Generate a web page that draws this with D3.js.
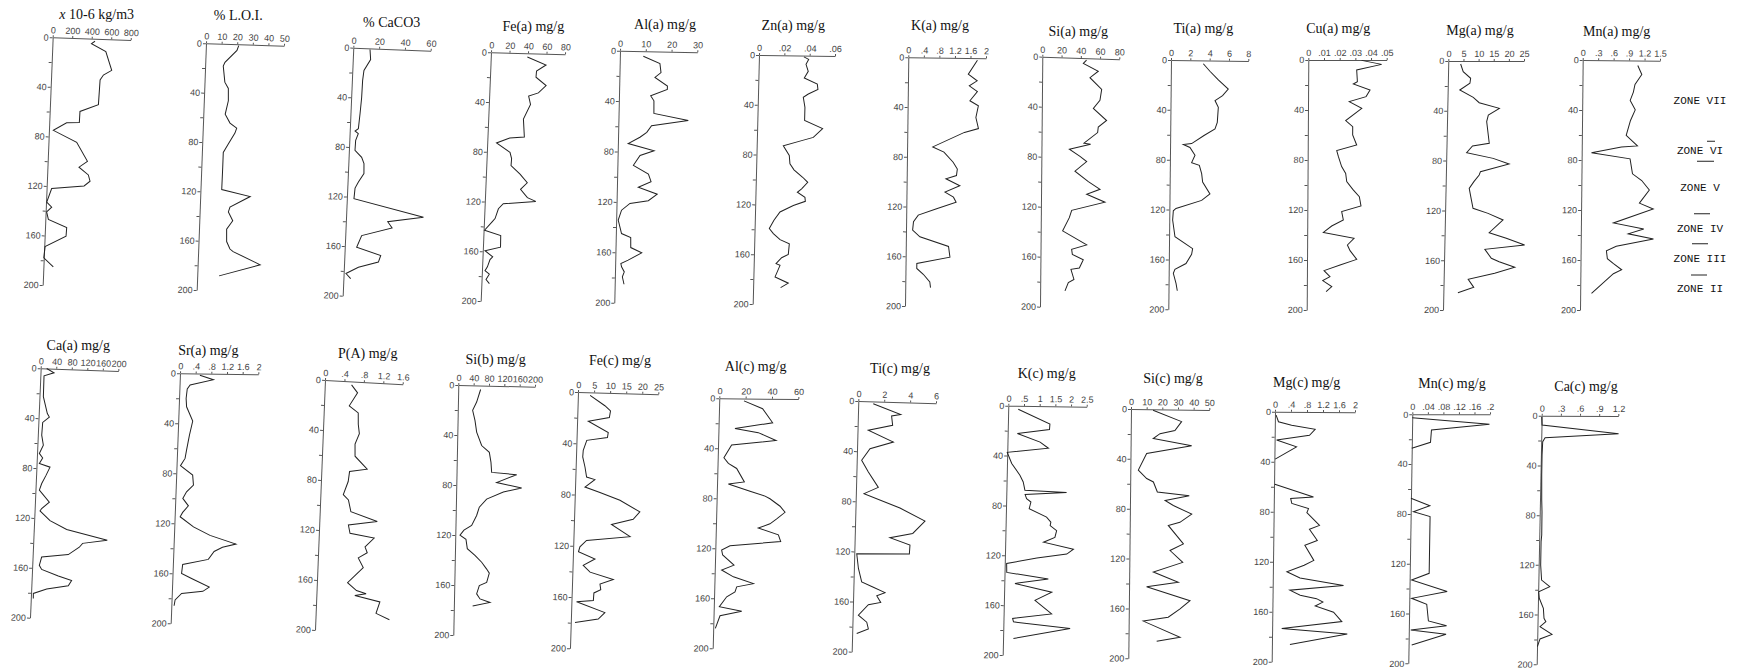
<!DOCTYPE html>
<html>
<head>
<meta charset="utf-8">
<title>Core profiles</title>
<script src="https://d3js.org/d3.v7.min.js"></script>
<style>
  body { margin: 0; background: #fff; }
  .axis text { font-family: "Liberation Sans", Arial, sans-serif; font-size: 9px; fill: #444; }
  .axis .domain, .axis line { stroke: #555; }
  .title { font-family: "Liberation Serif", "Times New Roman", serif; font-size: 14px; fill: #111; }
  .zone { font-family: "Liberation Mono", "Courier New", monospace; font-size: 11px; fill: #111; }
  .profile { fill: none; stroke: #222; stroke-width: 1; }
  .zonebar { stroke: #222; stroke-width: 1; }
</style>
</head>
<body>
<script>
// each profile is a list of [depth, value]
var magSus = [[2,435],[4,400],[10,550],[25,618],[29,535],[33,503],[53,496],[59,310],[68,308],[68.5,178],[75,45],[84,289],[99,407],[104,323],[110,422],[115,442],[119,383],[122,52],[133,7],[137,60],[141,10],[147,31],[153,222],[160,219],[169,8],[178,0],[185,101]];
var loi = [[1,21],[5,20],[15,12.6],[18,11.6],[31,13],[36,15.4],[46,15.7],[57,14],[64,17.3],[68,21.7],[72,20.7],[81,16.7],[88,13.7],[100,13.7],[118,13.6],[123,32],[132,19.3],[136,18.4],[143,21.4],[150,17.7],[160,18],[166,20.3],[168,22.4],[178,40],[188,14]];
var caco3 = [[1,13],[9,13.8],[18,9],[26,8.3],[40,8.1],[53,7.4],[65,6.6],[67,4.1],[69,6.7],[74.5,4.9],[82.5,4.7],[88,10.1],[93,12.1],[101,12.4],[108,8.4],[113,6],[121.5,5.5],[134.4,59.9],[139,32.4],[144,36],[151,12.7],[160.5,9.2],[166.4,28.1],[171.8,26.5],[176.6,11.2],[182,1.8],[186,5.6]];
var feA = [[3,39.5],[9,60],[14,50],[19,49.7],[25.5,61],[31.6,53],[34.3,42.6],[41,45],[53,38],[67.3,39.8],[68.5,24],[72.7,10],[80,25],[85,27],[90.6,26.7],[97.3,36.8],[104,45],[109.4,38],[116,45.8],[118.8,55],[121.4,20],[125.5,15],[133.5,11.8],[136,9],[143,1],[147,18.7],[156.3,19],[159.5,2.4],[164.3,11],[166.5,8.2],[172.4,5.7],[175.6,3.3],[178.3,8.1],[182.6,4.8],[185.8,8.6]];
var alA = [[4,9.1],[9.5,15.6],[16.7,16.1],[20.6,13.8],[27.2,18.7],[29.9,18.7],[35.2,12.3],[39.2,13.6],[49.2,13.7],[54.2,27.1],[59,12.9],[64.3,11.1],[68.3,8.5],[73.5,4],[78.8,14.1],[82.8,8.7],[90.7,6.2],[97.4,12.1],[103.4,13.2],[108,8.3],[113.2,15.7],[118.5,12.3],[121,5.2],[126.5,2],[134.4,0.8],[145,2.2],[148,5.8],[156,5.9],[160,10.2],[166,5],[168.8,2.2],[171.4,2.5],[175.4,3.6],[179.4,2.9],[185.2,3.6]];
var znA = [[1,.0355],[3,.0393],[7,.0373],[12.6,.0392],[18,.0362],[22.8,.0466],[27,.0472],[30.8,.0397],[33.5,.0358],[41.5,.0373],[52,.0373],[58.4,.0517],[65.6,.0445],[68.3,.0354],[72.6,.021],[80.3,.0259],[87,.0266],[91.8,.0299],[97.7,.0369],[101.7,.041],[107,.0363],[109.8,.033],[113.8,.0391],[117,.0395],[120.5,.0301],[125.8,.0197],[132.5,.0151],[139.2,.0116],[143.2,.0149],[148,.0203],[151.3,.0277],[159.8,.0271],[162.5,.0219],[167.3,.0176],[168.7,.0208],[178,.0171],[182.9,.0277],[186.6,.0217]];
var kA = [[1.6,1.78],[12.9,1.55],[18.2,1.78],[22.3,1.58],[26.8,1.79],[34.3,1.6],[38.3,1.82],[47.7,1.76],[56.6,1.83],[59.8,1.47],[71.8,.66],[75.9,.95],[83.9,1.19],[89.3,1.3],[94.6,1.28],[97.3,1.01],[102.7,1.37],[108,.99],[112,1.21],[116,1.28],[121.4,.78],[126.8,.31],[132.2,.19],[138.9,.17],[144.2,.36],[151.7,1.1],[160.3,1.14],[165.7,.29],[169.7,.29],[174.3,.46],[180.4,.63],[185,.65]];
var siA = [[1.6,46],[4.3,42.7],[10.1,58.3],[15.5,49.7],[24.5,62],[33.3,60.3],[40,53.5],[49.3,67.4],[54.7,58.8],[59.2,58.2],[68,44.1],[68.8,51],[73.3,29],[78.7,40.1],[82.7,47.1],[90.7,35],[98.7,49],[104.5,61.2],[108.8,47.4],[114.7,66.5],[122.1,32],[128,29.6],[138.7,22.8],[149.3,47.9],[153.3,32.3],[157.3,33.1],[161.3,44.5],[168,40.5],[169.3,31.8],[177.3,35],[180,29.2],[186.7,25.8]];
var tiA = [[2.7,3.35],[8.6,4.04],[15.5,4.92],[22.7,5.96],[28.1,5.38],[32.1,4.6],[37.4,4.95],[49.5,4.86],[54.8,4.63],[60.2,3.5],[66.8,2.23],[67.6,1.37],[70,2.06],[76.2,2.59],[82.1,2.25],[84.2,3.05],[90.9,3.3],[97.6,3.41],[107,4.18],[112.3,3.33],[119,.68],[120.9,.41],[128.3,.35],[141.7,.61],[151.1,2.45],[155.6,2.35],[163.1,1.78],[167.9,.64],[171.1,.48],[179.1,.77],[185,.91]];
var cuA = [[0.3,.034],[3.5,.0468],[8,.0309],[17.3,.0314],[19.2,.0288],[24,.0395],[29.3,.037],[33.3,.0263],[38.7,.0343],[48.5,.0241],[53.3,.0286],[60,.0286],[68,.0312],[72.5,.0185],[77.3,.0196],[85.3,.0217],[90.7,.0243],[97.3,.025],[103.5,.0289],[109.3,.0331],[116.8,.0342],[121.3,.0219],[128,.023],[132.8,.0156],[137.9,.0103],[142.7,.0299],[148,.0257],[152.5,.0274],[159.5,.0317],[164,.0211],[168.5,.0109],[173.3,.0147],[176.5,.0101],[181.3,.0159],[185.3,.0123]];
var mgA = [[2.4,4.1],[8.6,5],[13.9,7.5],[17.9,7.3],[23.3,4],[29.2,8.5],[33.5,10.5],[38,17.2],[43.4,13.6],[48.7,13.1],[66.1,14.1],[68.3,8.6],[73.6,6.7],[78.2,15.5],[82.7,20.8],[88.9,11.4],[91.6,11],[96.9,9.3],[102.3,7.8],[111.6,8.6],[118.3,9.2],[122.4,14.2],[127.7,19.2],[137.9,14.7],[142.4,20.4],[147.8,26.5],[151.3,13.4],[158.5,15.6],[161.2,18.2],[165.7,23.4],[170.5,16.8],[175.4,8.1],[181.8,10],[186.1,4.8]];
var mnA = [[4,1.07],[11.2,1.15],[19.2,1.02],[25.3,.99],[32,.93],[39.5,1.03],[48,.94],[60,.86],[68.3,1.08],[69.3,.77],[74.1,.19],[78.7,.94],[90.7,.99],[96,1.17],[103.5,1.32],[114.1,1.13],[118.7,1.4],[130.1,.63],[134.7,1.22],[138.7,.92],[142.7,1.41],[148.8,.69],[152.5,.5],[158.7,.52],[162.7,.64],[167.5,.8],[170.7,.64],[186.7,.22]];
var caA = [[0,15.5],[3.2,34.8],[5.9,9.4],[22.7,10],[36.1,22.1],[38.8,27.6],[43.3,11.1],[53.5,10],[61.5,15.3],[68.2,5.9],[71.7,15],[76.2,7],[78.9,34.9],[85.6,25.5],[92.2,15.3],[97.6,10],[107,37],[112.3,18],[114.2,14],[121.7,40.8],[128.3,84.6],[135.8,190.3],[139,127.2],[142.2,119.1],[148.4,91.6],[151.1,23.3],[157.8,18.2],[161,24.7],[165.8,68.2],[169,103],[173.3,95],[176.5,39.7],[180.5,5.9],[184.5,6.4]];
var srA = [[1.3,.51],[4.8,.86],[9.3,.27],[12.5,.2],[20,.18],[26.7,.2],[38.1,.37],[49.3,.3],[61.3,.24],[68,.21],[73.9,.1],[81.3,.42],[89.3,.45],[94.7,.28],[100,.19],[105.9,.34],[111.2,.2],[114.7,.14],[122.7,.49],[129.3,.92],[136,1.59],[138.7,1.25],[142.1,1.04],[148.5,.9],[152.8,.25],[160,.23],[164,.49],[170.7,.95],[174.1,.79],[176,.25],[181.3,.09],[185.9,.07]];
var pA = [[2.7,.55],[8.8,.68],[19.5,.52],[24.8,.71],[33.9,.72],[41.3,.75],[49.9,.67],[59.5,.68],[69.3,.94],[72,.58],[80,.56],[90.7,.47],[94.7,.58],[104,.64],[110.7,1.19],[114.7,.6],[121.3,.64],[124,1.14],[131.5,.96],[136,1.01],[140.5,.83],[148,.94],[160.8,.63],[166.7,.82],[168.8,1.02],[170.7,.79],[174.7,1.31],[184,1.24],[188.5,1.52]];
var siB = [[3.2,58.4],[13.3,48.7],[20,38.7],[28,45.3],[37.3,50.3],[48,64],[53.3,84.4],[61.3,89.2],[69.3,91.5],[70.7,156.8],[77.3,105],[81.3,170.5],[84.8,123],[90.7,79.8],[97.3,61.1],[104,54.6],[112,42.1],[116,22.3],[120,12.2],[123.2,28],[130.7,32],[136,52.3],[141.3,70.1],[146.7,83.5],[149.9,90.6],[157.3,84.2],[160,65.2],[166.7,58.7],[170.7,67.7],[173.3,93.9],[176.5,48.9]];
var feC = [[2.3,3.8],[10.1,8.5],[14,10.3],[19.2,10],[22.6,3.5],[30.9,9.8],[34.9,9.6],[37.5,3.2],[45.3,2.2],[50.5,2.1],[58.3,2.9],[66.1,3.5],[67.9,6.1],[73.9,3.1],[77.8,7.8],[83.5,14.1],[92.1,20.4],[98,18.4],[102.5,11.7],[111.6,17.6],[115.5,4.1],[120.7,2.1],[124.6,1.7],[129.8,6.9],[135,3.3],[140.2,5.5],[145.4,12.8],[149.3,8.7],[153.7,9],[156.3,6.9],[162.3,6.8],[163.6,1.6],[171.4,10.5],[176.6,8.5],[179.7,1.3]];
var alC = [[1.9,18.8],[8,33.1],[19.2,41],[24,12.5],[27.2,30.3],[33.3,43.9],[37.3,10.3],[47.5,4.7],[52,8.2],[56,14.6],[66.7,20.7],[68.5,8.6],[74.1,25.2],[77.9,36.7],[80,40.5],[85.9,48.3],[90.7,52.2],[96,46],[100,41],[103.5,32.2],[108.8,47.6],[114.1,49.5],[117.9,11.1],[121.3,4.8],[125.3,5.7],[133.3,14.5],[137.3,5.2],[142.7,14.3],[148,29.6],[150.7,17],[154.7,15.8],[158.7,9.6],[166.7,4.2],[170.1,21.3],[173.9,4.9],[184,1.6]];
var tiC = [[1.9,1.16],[9.8,3.3],[11.2,2.6],[18.6,2.7],[23.1,.83],[31.9,2.79],[37.8,1],[47.1,.38],[56.4,.92],[68.4,1.72],[73.7,.63],[84.3,3.43],[94.1,5.39],[104.3,4.47],[108.2,2.72],[113.6,4.28],[120.7,4.25],[121.8,.19],[133.5,.35],[144.1,.63],[148.1,1.54],[152.1,2.45],[154.8,1.82],[160.1,2.14],[162.2,1.19],[170.7,.44],[176.1,1.1],[181.4,1.24],[185.4,.35]];
var kC = [[2.7,.32],[14.2,1.34],[18.7,1.33],[22.2,.31],[28.9,1.04],[33.7,1.31],[37.4,0],[46.3,.15],[55.6,.42],[61,.53],[67.6,.59],[69,1.92],[71.1,.6],[74.3,.65],[77,.79],[82.4,.74],[89,1.3],[93,1.44],[95.7,1.42],[99.7,1.63],[105.1,1.58],[109.1,1.22],[114.4,2.18],[118.4,1.97],[121.9,1.02],[126.5,.06],[133.7,.07],[138.5,1.4],[142.5,.34],[149.2,1.52],[155.9,.99],[166.6,1.53],[170.6,.29],[173.3,.32],[178.1,2.13],[186.6,.33]];
var siC = [[0.8,14.1],[9.6,32.4],[16.8,28.2],[19.5,18.7],[23.5,14.4],[28.9,39],[35.5,10.3],[48.9,5.1],[55.6,10.5],[58.3,14.8],[66.3,17.4],[69,37.8],[73,22.4],[77,27.7],[83.7,39.5],[90.4,32],[93,24.6],[107.7,34.4],[113.1,25.9],[122.5,34.1],[130.5,15.4],[138.5,31.4],[142.5,11.2],[153.2,39],[159.9,32.7],[166.6,25.2],[170,9.3],[182.6,32.9],[186.1,18]];
var mgC = [[2.7,.03],[8,.09],[10.7,.42],[13.9,1.01],[18.7,.87],[22.7,.05],[28,.55],[37.9,.02],[48,null],[58.1,.02],[68,.99],[69.3,.42],[73.3,.45],[77.3,.87],[80.5,.83],[90.7,1.15],[93.9,.9],[102.7,1.1],[106.7,.79],[118.7,1.02],[122.7,.78],[128,.35],[132.8,.68],[138.7,1.77],[142.7,.43],[146.7,.69],[149.3,1.1],[152,1.26],[155.2,1.07],[160,1.53],[167.5,1.74],[173.3,.24],[177.3,1.88],[186.1,.45]];
var mnC = [[2.7,0],[8,.199],[12.6,.05],[22.5,.048],[27.3,0],[45,null],[67.5,0],[73.4,.049],[78.2,.007],[82.2,.05],[127.7,.05],[133.1,.005],[142.4,.097],[147.8,.006],[152.6,.045],[166,.05],[169.8,.097],[173.2,.005],[176.7,.096],[185.3,.008]];
var caC = [[0.8,0],[7.5,.008],[14.2,1.21],[17.7,.06],[20.9,.024],[31.6,.018],[47.7,.019],[67.8,.027],[77.2,.035],[96,.038],[101.3,.03],[120.1,.031],[132.2,.05],[137.5,.18],[141.6,.008],[146.9,.02],[155,.087],[163,.1],[165.7,.13],[169.7,.04],[175.9,.23],[179.6,.044],[185.8,.005]];

var series = [magSus, loi, caco3, feA, alA, znA, kA, siA, tiA, cuA, mgA, mnA,
              caA, srA, pA, siB, feC, alC, tiC, kC, siC, mgC, mnC, caC];
var titles = ["10-6 kg/m3", "% L.O.I.", "% CaCO3", "Fe(a) mg/g", "Al(a) mg/g", "Zn(a) mg/g",
              "K(a) mg/g", "Si(a) mg/g", "Ti(a) mg/g", "Cu(a) mg/g", "Mg(a) mg/g", "Mn(a) mg/g",
              "Ca(a) mg/g", "Sr(a) mg/g", "P(A) mg/g", "Si(b) mg/g", "Fe(c) mg/g", "Al(c) mg/g",
              "Ti(c) mg/g", "K(c) mg/g", "Si(c) mg/g", "Mg(c) mg/g", "Mn(c) mg/g", "Ca(c) mg/g"];
var xMax  = [800, 50, 60, 80, 30, .06, 2, 80, 8, .05, 25, 1.5, 200, 2, 1.6, 200, 25, 60, 6, 2.5, 50, 2, .2, 1.2];
var xStep = [200, 10, 20, 20, 10, .02, .4, 20, 2, .01, 5, .3, 40, .4, .4, 40, 5, 20, 2, .5, 10, .4, .04, .3];
var depthTicks = d3.range(0, 201, 20);

var zoneNames = ["ZONE VII", "ZONE VI", "ZONE V", "ZONE IV", "ZONE III", "ZONE II"];
var zoneBounds = [0, 65, 81, 123, 147, 172, 195];

// page layout of the scanned panels (they lean a little):
// origin x,y | end of value axis x,y | depth 200 x,y | title centre x,y
var layout = [
  [52.7, 37.3, 130.7, 40, 42.7, 285, 96.7, 14],
  [206, 43.3, 284, 45.7, 196.7, 290, 238.3, 15],
  [353.3, 47.7, 430.7, 50.7, 342.7, 295.7, 391.7, 21.7],
  [491, 52.3, 565, 54.3, 480.7, 301, 533.3, 26],
  [620, 50.7, 697.3, 52.3, 614.3, 302.7, 665, 24],
  [759, 55, 835, 56, 752.7, 304, 793.3, 25],
  [908.3, 57.3, 986, 58.3, 905, 306, 940, 25],
  [1042.3, 56.7, 1119.3, 59.3, 1040, 306.7, 1078.3, 30.7],
  [1171, 60, 1248.3, 61, 1168.3, 309.3, 1203.3, 28.3],
  [1308.3, 60, 1386.7, 60, 1306.7, 310, 1338.3, 28.3],
  [1448.3, 61, 1524, 61, 1443, 310, 1480, 30],
  [1582.7, 60, 1660, 60.7, 1580, 310, 1616.7, 30.7],
  [40.7, 368.3, 118.3, 371, 30, 617.7, 78.3, 345],
  [180, 373.3, 258.3, 374.3, 170.7, 623.3, 208.3, 350],
  [325, 380, 402.7, 384.3, 315, 630, 367.7, 353.3],
  [458.3, 385, 535, 386.7, 453.3, 635, 495.7, 359],
  [578, 392, 658.3, 394.3, 570, 648.3, 620, 360],
  [719.3, 398.3, 798.3, 399, 712.7, 648.3, 755.7, 365.7],
  [858.3, 401, 936, 403.3, 851.7, 651.7, 900, 368.3],
  [1008.3, 405.7, 1086.7, 406.7, 1002.7, 655, 1046.7, 373.3],
  [1131, 409, 1209.3, 410, 1128.3, 658.3, 1173, 377.7],
  [1275, 411.7, 1355, 412.3, 1271.7, 661.7, 1306.7, 381.7],
  [1412.3, 414.3, 1490, 414.3, 1408.3, 663.3, 1452, 383.3],
  [1541.7, 415.7, 1618.3, 416, 1536.7, 664.3, 1586, 385.7]
];
var zoneBarX = [[1707, 1715], [1697, 1714], [1694, 1710], [1692, 1708], [1691, 1707]];

function fmt(v) {
  if (v === 0) return "0";
  return String(+v.toFixed(3)).replace(/^0\./, ".");
}

var svg = d3.select("body").append("svg")
    .attr("width", 1739)
    .attr("height", 669);

layout.forEach(function(L, i) {
  var ox = L[0], oy = L[1], ex = L[2], ey = L[3], bx = L[4], by = L[5];
  var W = ex - ox, H = by - oy;

  var g = svg.append("g")
      .attr("transform", "matrix(1," + ((ey - oy) / W) + "," + ((bx - ox) / H) + ",1," + ox + "," + oy + ")");

  var x = d3.scaleLinear().domain([0, xMax[i]]).range([0, W]);
  var y = d3.scaleLinear().domain([0, 200]).range([0, H]);

  var ticks = d3.range(0, xMax[i] + xStep[i] / 2, xStep[i]).map(function(v) { return +v.toFixed(4); });

  g.append("g")
      .attr("class", "axis")
      .call(d3.axisTop(x).tickValues(ticks).tickFormat(fmt).tickSize(2).tickPadding(2).tickSizeOuter(0));

  g.append("g")
      .attr("class", "axis")
      .call(d3.axisLeft(y).tickValues(depthTicks)
        .tickFormat(function(d) { return d % 40 === 0 ? d : ""; })
        .tickSize(3).tickPadding(1).tickSizeOuter(0));

  var line = d3.line()
      .defined(function(d) { return d[1] != null; })
      .x(function(d) { return x(d[1]); })
      .y(function(d) { return y(d[0]); });

  g.append("path")
      .datum(series[i])
      .attr("class", "profile")
      .attr("d", line);

  var t = svg.append("text")
      .attr("class", "title")
      .attr("x", L[6])
      .attr("y", L[7])
      .attr("text-anchor", "middle")
      .attr("dominant-baseline", "central");
  if (i === 0) {
    t.append("tspan").attr("font-style", "italic").text("x ");
  }
  t.append("tspan").text(titles[i]);
});

// zone labels follow the depth scale of the Mn(a) panel
var mn = layout[11];
var zy = d3.scaleLinear().domain([0, 200]).range([mn[1], mn[5]]);

svg.selectAll(".zone")
    .data(zoneNames)
  .enter().append("text")
    .attr("class", "zone")
    .attr("x", 1700)
    .attr("y", function(d, i) { return zy((zoneBounds[i] + zoneBounds[i + 1]) / 2); })
    .attr("text-anchor", "middle")
    .attr("dominant-baseline", "central")
    .text(function(d) { return d; });

svg.selectAll(".zonebar")
    .data(zoneBounds.slice(1, 6))
  .enter().append("line")
    .attr("class", "zonebar")
    .attr("x1", function(d, i) { return zoneBarX[i][0]; })
    .attr("x2", function(d, i) { return zoneBarX[i][1]; })
    .attr("y1", function(d) { return zy(d); })
    .attr("y2", function(d) { return zy(d); });
</script>
</body>
</html>
